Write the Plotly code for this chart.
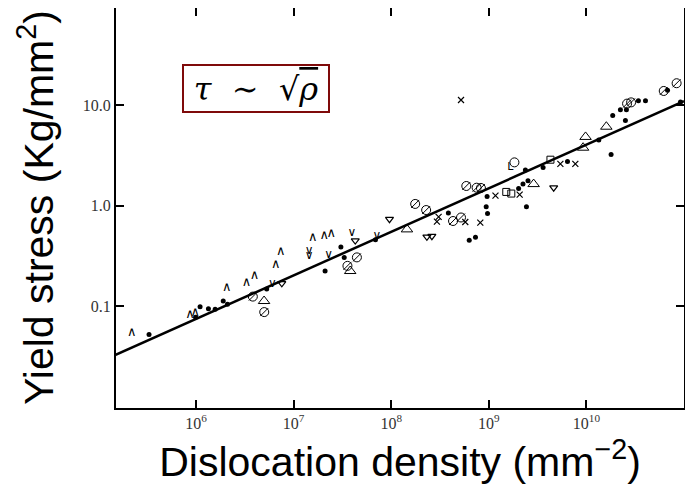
import plotly.graph_objects as go

# ---- data: dislocation density (mm^-2) vs yield stress (kg/mm^2) ----
dot_x = [3.3e5, 9.9e5, 1.1e6, 1.34e6, 1.57e6, 1.9e6, 2.1e6, 5.3e6, 2.1e7, 3.05e7,
         3.3e7, 6.9e7, 3.85e8, 6.3e8, 7.3e8, 9.4e8, 9.7e8, 9.6e8, 2.02e9, 2.24e9,
         2.52e9, 2.43e9, 2.37e9, 3.6e9, 6.4e9, 1.34e10, 1.79e10, 1.86e10, 2.51e10,
         2.23e10, 2.57e10, 3.41e10, 4.03e10, 6.78e10, 9.2e10]
dot_y = [0.052, 0.077, 0.098, 0.094, 0.093, 0.112, 0.104, 0.148, 0.223, 0.386,
         0.305, 0.458, 0.843, 0.451, 0.484, 0.977, 0.837, 1.235, 1.48, 1.64,
         1.77, 0.977, 2.27, 2.4, 2.76, 4.52, 3.23, 7.93, 7.05,
         9.03, 9.03, 11.1, 11.1, 14.1, 10.8]

caret_x = [2.19e5, 8.7e5, 9.8e5, 2.07e6, 3.3e6, 3.97e6, 6.56e6, 7.4e6, 1.57e7, 2.06e7, 2.43e7]
caret_y = [0.0544, 0.0824, 0.0849, 0.153, 0.169, 0.199, 0.255, 0.349, 0.477, 0.504, 0.527]

vee_x = [6.07e6, 1.44e7, 1.44e7, 2.28e7, 3.95e7, 7.13e7]
vee_y = [0.166, 0.354, 0.315, 0.323, 0.536, 0.495]

ell_x = [1.66e9]
ell_y = [2.42]

tri_down_x = [7.57e6, 4.28e7, 9.6e7, 2.32e8, 2.61e8, 4.62e9]
tri_down_y = [0.168, 0.448, 0.733, 0.489, 0.496, 1.51]

tri_up_x = [4.98e6, 3.8e7, 1.45e8, 2.88e9, 9.8e9, 9.25e9, 1.6e10]
tri_up_y = [0.112, 0.223, 0.58, 1.64, 4.84, 3.78, 6.12]

slash_x = [5.0e6, 3.82e6, 4.45e7, 3.56e7, 1.76e8, 2.28e8, 4.3e8, 5.19e8, 5.88e8,
           7.5e8, 8.3e8, 2.61e10, 2.87e10, 6.2e10, 8.4e10]
slash_y = [0.0869, 0.124, 0.305, 0.251, 1.04, 0.904, 0.703, 0.762, 1.57,
           1.51, 1.5, 10.4, 10.7, 13.9, 16.6]

circ_x = [1.83e9]
circ_y = [2.7]

cross_x = [2.94e8, 3.06e8, 5.74e8, 8.18e8, 1.17e9, 5.19e8, 2.07e9, 5.41e9, 7.7e9]
cross_y = [0.693, 0.773, 0.687, 0.678, 1.26, 11.3, 1.29, 2.61, 2.61]

square_x = [1.51e9, 1.7e9, 4.28e9]
square_y = [1.37, 1.32, 2.87]

fit_x = [1.5e5, 1.0e11]
fit_y = [0.0326, 11.0]

x_tickvals = [1e6, 1e7, 1e8, 1e9, 1e10]
x_ticktext = ["10<sup>6</sup>", "10<sup>7</sup>", "10<sup>8</sup>", "10<sup>9</sup>", "10<sup>10</sup>"]
y_tickvals = [0.1, 1.0, 10.0]
y_ticktext = ["0.1", "1.0", "10.0"]

fig = go.Figure()

fig.add_trace(go.Scatter(x=fit_x, y=fit_y, mode="lines",
                         line=dict(color="black", width=2.5), hoverinfo="skip"))

fig.add_trace(go.Scatter(x=dot_x, y=dot_y, mode="markers",
                         marker=dict(symbol="circle", size=5, color="black")))

fig.add_trace(go.Scatter(x=caret_x, y=caret_y, mode="text", text=["∧"] * len(caret_x),
                         textposition="middle center",
                         textfont=dict(family="DejaVu Sans", size=13, color="black")))
fig.add_trace(go.Scatter(x=vee_x, y=vee_y, mode="text", text=["∨"] * len(vee_x),
                         textposition="middle center",
                         textfont=dict(family="DejaVu Sans", size=12, color="black")))
fig.add_trace(go.Scatter(x=ell_x, y=ell_y, mode="text", text=["L"] * len(ell_x),
                         textposition="middle center",
                         textfont=dict(family="DejaVu Sans", size=11, color="black")))

fig.add_trace(go.Scatter(x=tri_down_x, y=tri_down_y, mode="markers",
                         marker=dict(symbol="triangle-down-open", size=7, color="black",
                                     line=dict(width=1.2))))
fig.add_trace(go.Scatter(x=tri_up_x, y=tri_up_y, mode="markers",
                         marker=dict(symbol="triangle-up-open", size=10, color="black",
                                     line=dict(width=1))))

fig.add_trace(go.Scatter(x=slash_x, y=slash_y, mode="markers",
                         marker=dict(symbol="circle-open", size=9, color="black",
                                     line=dict(width=1))))
fig.add_trace(go.Scatter(x=slash_x, y=slash_y, mode="markers",
                         marker=dict(symbol="line-ne", size=8, color="black",
                                     line=dict(width=1, color="black"))))

fig.add_trace(go.Scatter(x=circ_x, y=circ_y, mode="markers",
                         marker=dict(symbol="circle-open", size=9, color="black",
                                     line=dict(width=1))))

fig.add_trace(go.Scatter(x=cross_x, y=cross_y, mode="markers",
                         marker=dict(symbol="x-thin-open", size=6, color="black",
                                     line=dict(width=1.2, color="black"))))

fig.add_trace(go.Scatter(x=square_x, y=square_y, mode="markers",
                         marker=dict(symbol="square-open", size=7, color="black",
                                     line=dict(width=1))))

axis_common = dict(
    type="log", showgrid=False, zeroline=False, automargin=False,
    showline=True, linecolor="black", linewidth=2, mirror="ticks",
    ticks="inside", ticklen=8, tickwidth=2, tickcolor="black",
    tickfont=dict(family="Liberation Serif", size=16, color="#333333"),
)

# page body has an 8px default margin, so the figure is 8px smaller than the window
fig.update_layout(
    width=685, height=482,
    margin=dict(l=108, r=9, t=0, b=82, autoexpand=False),
    paper_bgcolor="white", plot_bgcolor="white",
    showlegend=False,
    xaxis=dict(axis_common, range=[5.18, 11.0], tickmode="array",
               tickvals=x_tickvals, ticktext=x_ticktext,
               title=dict(text="Dislocation density (mm<sup>−2</sup>)",
                          font=dict(family="Liberation Sans", size=41, color="black"),
                          standoff=16)),
    yaxis=dict(axis_common, range=[-2.017, 1.97], tickmode="array",
               tickvals=y_tickvals, ticktext=y_ticktext),
    annotations=[
        dict(xref="paper", yref="paper", x=-0.1408, y=0.5,
             xanchor="center", yanchor="middle", textangle=-90,
             text="Yield stress (Kg/mm<sup>2</sup>)", showarrow=False,
             font=dict(family="Liberation Sans", size=41, color="black")),
        dict(xref="paper", yref="paper", x=0.2463, y=0.799,
             xanchor="center", yanchor="middle",
             text="<i>τ</i>  ∼  √<span style='text-decoration:overline'><i>ρ</i></span>",
             font=dict(family="DejaVu Serif", size=32, color="black"),
             showarrow=False, bordercolor="#7f0a0a", borderwidth=2,
             bgcolor="white", width=142, height=43),
    ],
)

fig.write_html("out.html")
